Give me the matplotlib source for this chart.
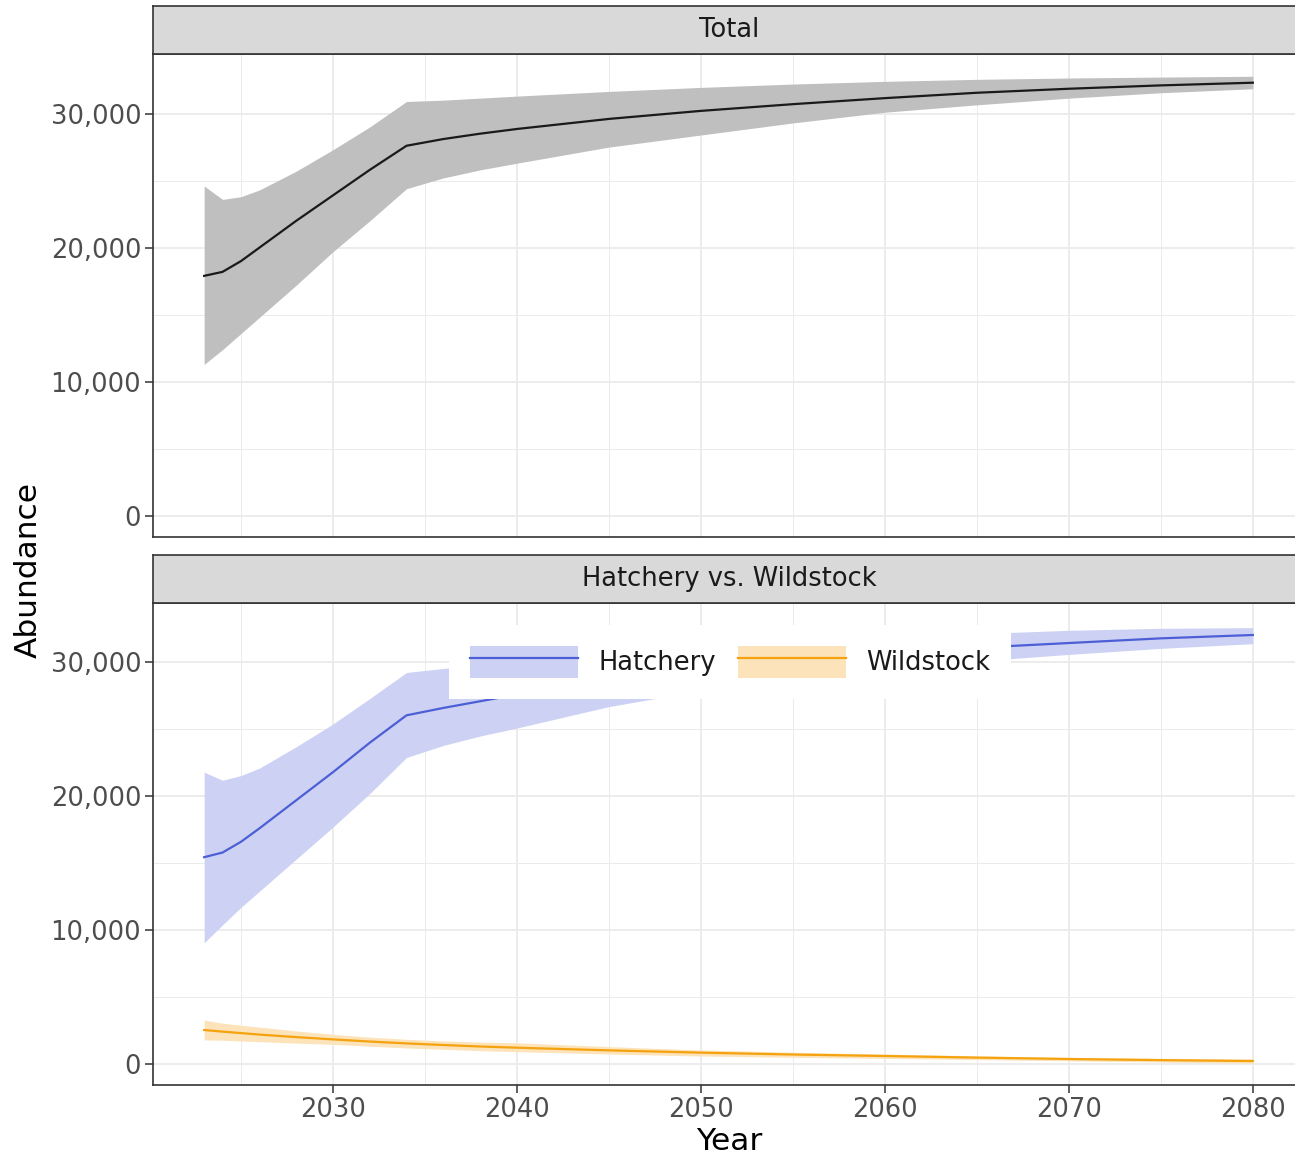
import matplotlib
matplotlib.use("Agg")
import matplotlib.pyplot as plt
from matplotlib.patches import Patch
from matplotlib.lines import Line2D
from matplotlib.legend_handler import HandlerTuple
from matplotlib.ticker import FuncFormatter, MultipleLocator

years = [2023, 2024, 2025, 2026, 2028, 2030, 2032, 2034, 2036, 2038, 2040,
         2045, 2050, 2055, 2060, 2065, 2070, 2075, 2080]

total_mid = [17900, 18200, 19000, 20000, 22000, 23900, 25800, 27600, 28100, 28500, 28850,
             29600, 30200, 30700, 31150, 31550, 31850, 32100, 32300]
total_hi = [24600, 23600, 23800, 24300, 25700, 27300, 29000, 30900, 31000, 31150, 31300,
            31650, 31950, 32200, 32400, 32550, 32650, 32720, 32780]
total_lo = [11300, 12400, 13600, 14800, 17200, 19700, 22000, 24400, 25200, 25800, 26300,
            27500, 28400, 29300, 30100, 30650, 31150, 31550, 31850]

hatch_mid = [15450, 15800, 16600, 17600, 19700, 21800, 24000, 26050, 26600, 27100, 27600,
             28600, 29350, 30000, 30600, 31100, 31450, 31800, 32050]
hatch_hi = [21800, 21200, 21550, 22100, 23700, 25400, 27300, 29250, 29550, 29800, 30000,
            30500, 30950, 31350, 31700, 32150, 32400, 32550, 32600]
hatch_lo = [9050, 10400, 11700, 12900, 15300, 17700, 20200, 22900, 23800, 24500, 25100,
            26700, 27900, 28800, 29500, 30100, 30600, 31050, 31400]

wild_mid = [2540, 2420, 2310, 2200, 2010, 1840, 1680, 1540, 1420, 1310, 1220,
            1020, 850, 710, 600, 480, 375, 290, 225]
wild_hi = [3280, 3050, 2900, 2760, 2470, 2220, 2010, 1850, 1720, 1640, 1590,
           1300, 1050, 880, 750, 610, 500, 430, 370]
wild_lo = [1800, 1780, 1720, 1670, 1560, 1470, 1330, 1200, 1100, 1000, 920,
           750, 600, 500, 420, 330, 240, 150, 60]

panel_titles = ["Total", "Hatchery vs. Wildstock"]
series_names = ["Hatchery", "Wildstock"]
x_ticks = [2030, 2040, 2050, 2060, 2070, 2080]
y_ticks = [0, 10000, 20000, 30000]

W, H = 1295, 1159
fig = plt.figure(figsize=(W / 100, H / 100), dpi=100)
plt.rcParams['font.family'] = ['DejaVu Sans']

GRID = "#EBEBEB"
DARK = "#333333"
TICKC = "#4D4D4D"
FS = 18.5
TFS = 22.5

def fx(px):
    return px / W

def fy(py):
    return 1 - py / H

def make_panel(top_px, bot_px, strip_top_px, title):
    ax = fig.add_axes([fx(153), fy(bot_px), fx(1297) - fx(153), fy(top_px) - fy(bot_px)])
    ax.set_xlim(2020.22, 2082.4)
    ax.set_ylim(-1567, 34440)
    ax.set_xticks(x_ticks)
    ax.xaxis.set_minor_locator(MultipleLocator(5))
    ax.set_yticks(y_ticks)
    ax.yaxis.set_minor_locator(MultipleLocator(5000))
    ax.yaxis.set_major_formatter(FuncFormatter(lambda v, p: f"{int(v):,}"))
    ax.grid(which="major", color=GRID, lw=1.3, zorder=0)
    ax.grid(which="minor", color=GRID, lw=0.7, zorder=0)
    ax.set_axisbelow(True)
    ax.tick_params(which="major", length=5.5, width=1.1, color=DARK,
                   labelsize=FS, labelcolor=TICKC, pad=3)
    ax.tick_params(which="minor", length=0)
    for s in ax.spines.values():
        s.set_color(DARK)
        s.set_linewidth(1.2)
    sax = fig.add_axes([fx(153), fy(top_px), fx(1297) - fx(153), fy(strip_top_px) - fy(top_px)])
    sax.set_facecolor("#D9D9D9")
    sax.set_xticks([])
    sax.set_yticks([])
    for s in sax.spines.values():
        s.set_color(DARK)
        s.set_linewidth(1.2)
    sax.text((729 - 153) / (1297 - 153), 0.5, title, ha="center", va="center",
             fontsize=FS, color="#1A1A1A", transform=sax.transAxes)
    return ax

ax1 = make_panel(54, 537, 6, panel_titles[0])
ax2 = make_panel(603, 1085, 555, panel_titles[1])
ax1.tick_params(axis="x", which="both", bottom=False, labelbottom=False)

# Total
ax1.fill_between(years, total_lo, total_hi, color="#BFBFBF", lw=0, zorder=2)
ax1.plot(years, total_mid, color="#1A1A1A", lw=1.6, zorder=3)

# Hatchery / Wildstock
HC, HF = "#4C5FD5", "#CDD2F4"
WC, WF = "#F5A20F", "#FCE3BA"
ax2.fill_between(years, hatch_lo, hatch_hi, color=HF, lw=0, zorder=2)
ax2.plot(years, hatch_mid, color=HC, lw=1.6, zorder=3)
ax2.fill_between(years, wild_lo, wild_hi, color=WF, lw=0, zorder=2)
ax2.plot(years, wild_mid, color=WC, lw=1.6, zorder=3)

handles = [(Patch(facecolor=HF, edgecolor="none"), Line2D([], [], color=HC, lw=1.6)),
           (Patch(facecolor=WF, edgecolor="none"), Line2D([], [], color=WC, lw=1.6))]
leg = ax2.legend(handles, series_names, handler_map={tuple: HandlerTuple(ndivide=1, pad=0)},
                 loc="center", bbox_to_anchor=(fx(730), fy(662)), bbox_transform=fig.transFigure,
                 ncol=2, fontsize=FS, frameon=True, fancybox=False, framealpha=1,
                 facecolor="white", edgecolor="none", handlelength=4.2, handleheight=1.55,
                 handletextpad=0.8, columnspacing=0.85, borderpad=0.8, borderaxespad=0)
leg.set_zorder(5)
for t in leg.get_texts():
    t.set_color("#1A1A1A")

fig.text(fx(28), fy(570), "Abundance", rotation=90, ha="center", va="center",
         fontsize=TFS, color="black")
fig.text(fx(729), fy(1142), "Year", ha="center", va="center", fontsize=TFS, color="black")

fig.savefig("out.png", dpi=100)
